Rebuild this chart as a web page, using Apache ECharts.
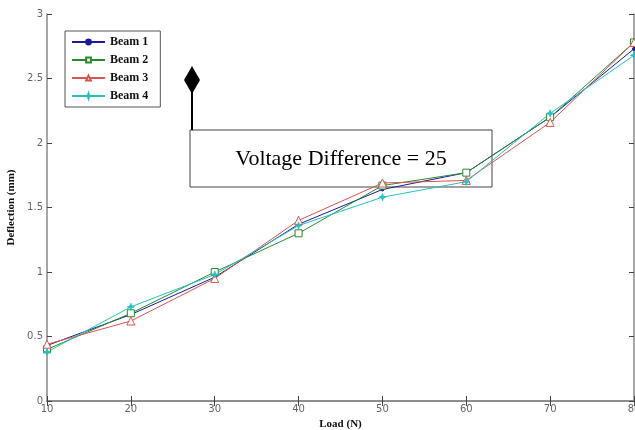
<!DOCTYPE html>
<html><head><meta charset="utf-8">
<script src="https://cdn.jsdelivr.net/npm/echarts@6/dist/echarts.min.js"></script>
<style>html,body{margin:0;padding:0;background:#fff}#c{width:635px;height:430px}</style>
</head><body><div id="c"></div>
<script>
var loads = [10, 20, 30, 40, 50, 60, 70, 80];
var beam1 = [0.43, 0.67, 0.96, 1.37, 1.64, 1.77, 2.20, 2.73];
var beam2 = [0.40, 0.68, 1.00, 1.30, 1.67, 1.77, 2.20, 2.78];
var beam3 = [0.44, 0.62, 0.95, 1.40, 1.69, 1.71, 2.16, 2.78];
var beam4 = [0.38, 0.73, 0.98, 1.36, 1.58, 1.70, 2.23, 2.68];
var names = ['Beam 1', 'Beam 2', 'Beam 3', 'Beam 4'];
var colors = ['#1a1a9a', '#2a8a2a', '#d9534f', '#27c0c0'];
var xTicks = [10, 20, 30, 40, 50, 60, 70, 80];
var yTicks = [0, 0.5, 1, 1.5, 2, 2.5, 3];

function pairs(v){ return loads.map(function(x,i){ return [x, v[i]]; }); }
var star = 'path://M0,-10L2.5,-2.5L10,0L2.5,2.5L0,10L-2.5,2.5L-10,0L-2.5,-2.5Z';
var symbols = [
  {symbol:'circle', size:3, fill:true},
  {symbol:'rect', size:7, fill:false},
  {symbol:'triangle', size:8, fill:false},
  {symbol:star, size:7, fill:true}
];
var legendSizes = [3, 6, 7, 6];
var datas = [beam1, beam2, beam3, beam4];
var series = datas.map(function(d,i){
  return {
    name: names[i], type:'line', data: pairs(d),
    symbol: symbols[i].symbol, symbolSize: symbols[i].size, showAllSymbol:true,
    lineStyle:{color:colors[i], width:1},
    itemStyle:{color: symbols[i].fill ? colors[i] : '#fff', borderColor: colors[i], borderWidth:1},
    emphasis:{disabled:true}, animation:false, z:5
  };
});

var tickFont = {color:'#666', fontFamily:'DejaVu Sans', fontSize:10};
var axisLine = {show:true, lineStyle:{color:'#888', width:1.5}};
var chart = echarts.init(document.getElementById('c'));
chart.setOption({
  animation:false,
  grid:{left:47, right:1, top:14, bottom:29, containLabel:false, outerBoundsMode:'none'},
  legend:{
    orient:'vertical', left:65, top:31, padding:[5,12,5,6],
    itemWidth:33, itemHeight:6, itemGap:6,
    borderColor:'#555', borderWidth:1, backgroundColor:'#fff',
    textStyle:{fontFamily:'Liberation Serif', fontWeight:'bold', fontSize:12, color:'#111'},
    data: names.map(function(n,i){ return {name:n}; })
  },
  xAxis:[{
    type:'value', min:xTicks[0], max:xTicks[xTicks.length-1], interval:10,
    name:'Load (N)', nameLocation:'middle', nameGap:16,
    nameTextStyle:{fontFamily:'Liberation Serif', fontWeight:'bold', fontSize:11, color:'#111'},
    axisLine:axisLine, axisTick:{show:true, inside:true, length:5, lineStyle:{color:'#444'}},
    axisLabel:Object.assign({margin:3}, tickFont), splitLine:{show:false}
  },{
    type:'value', position:'top', min:xTicks[0], max:xTicks[xTicks.length-1], interval:10,
    axisLine:axisLine, axisTick:{show:true, inside:true, length:5, lineStyle:{color:'#444'}},
    axisLabel:{show:false}, splitLine:{show:false}
  }],
  yAxis:[{
    type:'value', min:yTicks[0], max:yTicks[yTicks.length-1], interval:0.5,
    name:'Deflection (mm)', nameLocation:'middle', nameGap:28, nameRotate:90,
    nameTextStyle:{fontFamily:'Liberation Serif', fontWeight:'bold', fontSize:11, color:'#111'},
    axisLine:axisLine, axisTick:{show:true, inside:true, length:5, lineStyle:{color:'#444'}},
    axisLabel:Object.assign({margin:4}, tickFont), splitLine:{show:false}
  },{
    type:'value', position:'right', min:yTicks[0], max:yTicks[yTicks.length-1], interval:0.5,
    axisLine:axisLine, axisTick:{show:true, inside:true, length:5, lineStyle:{color:'#444'}},
    axisLabel:{show:false}, splitLine:{show:false}
  }],
  series: series,
  graphic:[
    {type:'polygon', shape:{points:[[192,66],[200,80],[192,94],[184,80]]}, style:{fill:'#000'}, z:100},
    {type:'line', shape:{x1:192, y1:90, x2:192, y2:130}, style:{stroke:'#000', lineWidth:2}, z:100},
    {type:'rect', shape:{x:190, y:130, width:302, height:57}, style:{fill:'rgba(255,255,255,0.85)', stroke:'#444', lineWidth:1}, z:1, silent:true},
    {type:'text', x:341, y:159, style:{text:'Voltage Difference = 25', font:'22px "Liberation Serif"', fill:'#000', align:'center', verticalAlign:'middle'}, z:101}
  ]
});
</script></body></html>
